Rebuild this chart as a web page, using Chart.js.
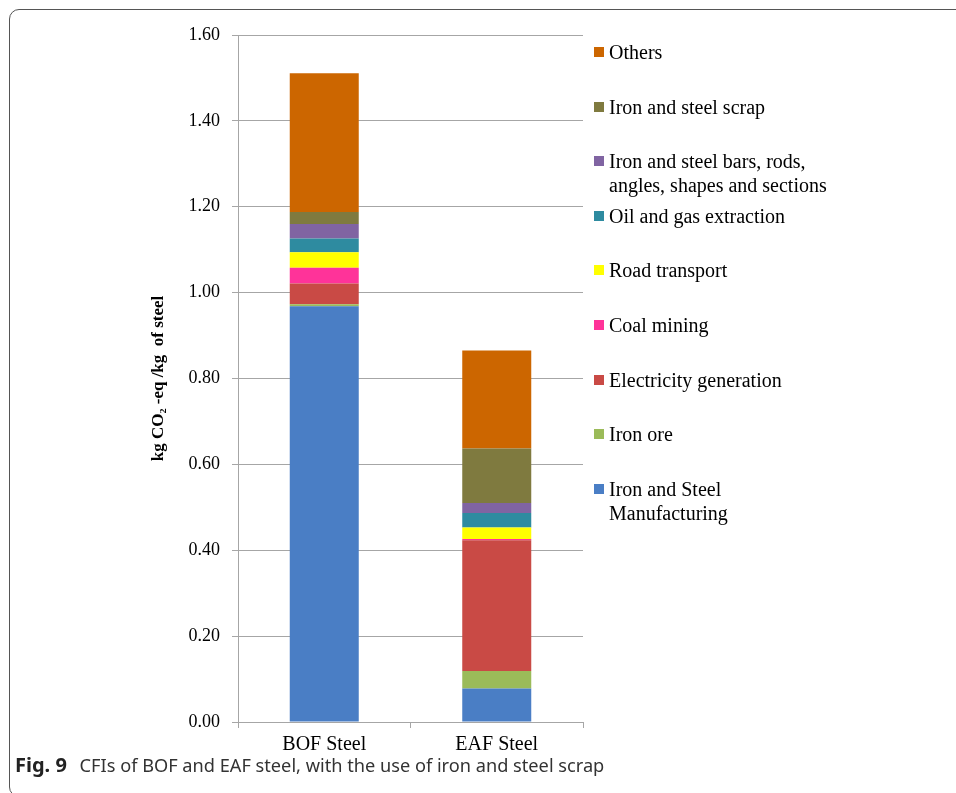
<!DOCTYPE html>
<html>
<head>
    <title>CFIs of BOF and EAF steel</title>
    <meta charset="UTF-8">
    <script src="https://cdn.jsdelivr.net/npm/chart.js@4.4.1/dist/chart.umd.min.js"></script>
    <style>
        body { margin: 0; background: #fff; }
        #wrap { position: relative; width: 956px; height: 793px; overflow: hidden; }
        #frame { position: absolute; left: 9px; top: 9px; width: 1000px; height: 786px;
                 border: 1.5px solid #555; border-radius: 10px; }
        #chart { position: absolute; left: 0; top: 0; }
        #legend { position: absolute; left: 0; top: 0; font-family: "Liberation Serif", "DejaVu Serif", serif;
                  font-size: 20px; color: #000; }
        .item { position: absolute; left: 609px; line-height: 24px; white-space: nowrap; }
        .sw { position: absolute; left: -15px; top: 7px; width: 10px; height: 10px; }
        #caption { position: absolute; left: 15px; top: 755px; font-family: "Noto Sans", "Open Sans", sans-serif;
                   font-size: 18.2px; line-height: 20px; color: #333; white-space: nowrap; }
        #caption b { color: #222; font-size: 20px; margin-right: 8px; }
    </style>
</head>
<body>
<div id="wrap">
    <div id="frame"></div>
    <canvas id="chart" width="956" height="793"></canvas>
    <div id="legend"></div>
    <div id="caption"><b>Fig. 9</b> CFIs of BOF and EAF steel, with the use of iron and steel scrap</div>
</div>

<script>
    var categories = ['BOF Steel', 'EAF Steel'];

    // kg CO2-eq / kg of steel, bottom of the stack first
    var manufacturing = [0.968, 0.078];
    var ironOre = [0.005, 0.041];
    var electricity = [0.048, 0.304];
    var coalMining = [0.037, 0.003];
    var roadTransport = [0.036, 0.027];
    var oilGas = [0.032, 0.034];
    var barsRods = [0.034, 0.023];
    var scrap = [0.028, 0.127];
    var others = [0.323, 0.228];

    var yTicks = [0, 0.2, 0.4, 0.6, 0.8, 1.0, 1.2, 1.4, 1.6];

    var series = [
        { lines: ['Iron and Steel', 'Manufacturing'], data: manufacturing, color: '#4a7ec5' },
        { lines: ['Iron ore'], data: ironOre, color: '#9bbb59' },
        { lines: ['Electricity generation'], data: electricity, color: '#c94a45' },
        { lines: ['Coal mining'], data: coalMining, color: '#ff3399' },
        { lines: ['Road transport'], data: roadTransport, color: '#ffff00' },
        { lines: ['Oil and gas extraction'], data: oilGas, color: '#2e8ba0' },
        { lines: ['Iron and steel bars, rods,', 'angles, shapes and sections'], data: barsRods, color: '#8064a2' },
        { lines: ['Iron and steel scrap'], data: scrap, color: '#7f7a3f' },
        { lines: ['Others'], data: others, color: '#cc6600' }
    ];

    var serif = '"Liberation Serif", "DejaVu Serif", serif';
    var grey = '#a6a6a6';

    new Chart(document.getElementById('chart'), {
        type: 'bar',
        data: {
            labels: categories,
            datasets: series.map(function (s) {
                return { label: s.lines.join(' '), data: s.data, backgroundColor: s.color,
                         borderWidth: 0, barPercentage: 0.4, categoryPercentage: 1 };
            })
        },
        options: {
            responsive: false,
            animation: false,
            layout: { padding: { left: 140, right: 373, top: 35, bottom: 0 } },
            plugins: { legend: { display: false }, tooltip: { enabled: false } },
            scales: {
                x: {
                    stacked: true,
                    afterFit: function (s) { s.height = 71; },
                    grid: { drawOnChartArea: false, color: grey, tickLength: 6 },
                    border: { color: grey },
                    ticks: { color: '#000', padding: 5, font: { family: serif, size: 20 } }
                },
                y: {
                    stacked: true,
                    min: 0,
                    max: 1.6,
                    afterFit: function (s) { s.width = 98; },
                    afterBuildTicks: function (s) { s.ticks = yTicks.map(function (v) { return { value: v }; }); },
                    grid: { color: grey, tickLength: 6 },
                    border: { color: grey },
                    ticks: {
                        color: '#000', padding: 12, font: { family: serif, size: 18 },
                        callback: function (v) { return Number(v).toFixed(2); }
                    },
                    title: {
                        display: true, text: 'kg CO\u2082 -eq /kg  of steel', color: '#000',
                        padding: { top: 8, bottom: 0 },
                        font: { family: serif, size: 17, weight: 'bold' }
                    }
                }
            }
        }
    });

    // legend on the right, top entry first
    var legend = document.getElementById('legend');
    series.slice().reverse().forEach(function (s, i) {
        var item = document.createElement('div');
        item.className = 'item';
        item.style.top = (40 + i * 54.6) + 'px';
        item.innerHTML = '<span class="sw" style="background:' + s.color + '"></span>' + s.lines.join('<br>');
        legend.appendChild(item);
    });
</script>
</body>
</html>
